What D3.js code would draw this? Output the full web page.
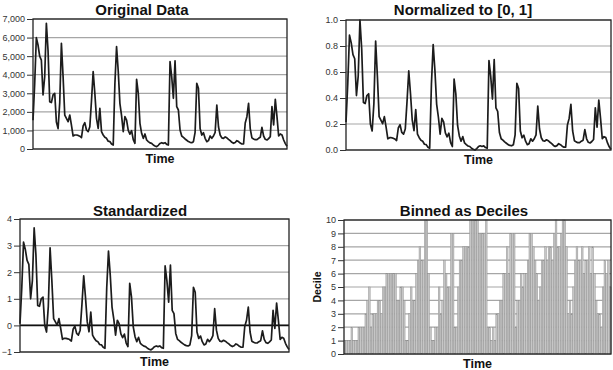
<!DOCTYPE html>
<html>
<head>
<meta charset="utf-8">
<script src="https://cdn.jsdelivr.net/npm/d3@7"></script>
<style>
  body { margin: 0; background: #fff; }
  svg text { font-family: "Liberation Sans", Arial, sans-serif; }
</style>
</head>
<body>
<svg id="chart" width="613" height="370"></svg>
<script>
// data (one value per time step)
var original = [1550,3500,6000,5600,5000,4790,2910,3900,6770,5300,
  2550,2500,2910,3000,1450,1100,2500,5690,3900,1830,
  1650,1470,1830,1290,700,754,754,730,690,610,
  1250,1420,1023,934,1200,2600,4165,3000,1650,1113,
  2190,934,754,628,575,420,400,269,215,3500,
  5510,4200,2460,1800,934,1741,1560,1000,800,987,
  500,305,3750,3000,1380,844,575,808,485,400,
  330,305,215,162,126,200,300,341,305,341,
  251,215,4700,3900,2730,4750,2280,2100,1023,700,
  628,540,470,400,360,341,395,900,3537,3267,
  1100,750,880,575,395,450,700,575,700,900,
  2370,1200,754,600,575,650,600,521,450,360,
  305,350,450,400,320,269,269,1400,1741,2460,
  1100,600,540,500,500,575,628,1167,700,521,
  485,560,664,2280,1293,2675,1741,700,808,760,
  485,290,150];

var deciles = [1,1,1,1,2,1,1,1,2,2,
  2,2,3,4,5,2,3,3,3,4,
  4,3,5,5,6,6,6,6,6,6,
  4,4,5,5,4,1,1,3,5,4,
  4,6,7,8,7,7,10,10,6,2,
  1,1,2,2,5,3,4,7,6,5,
  5,9,9,2,2,5,7,7,8,8,
  8,8,10,10,10,10,10,9,9,9,
  9,10,2,2,1,2,1,3,3,4,
  4,6,6,8,6,9,9,9,2,4,
  4,6,5,6,6,7,9,9,8,7,
  6,4,5,7,7,8,7,8,8,7,
  9,10,8,8,9,10,10,8,3,4,
  3,5,7,8,7,7,8,6,7,7,
  8,6,8,6,4,3,3,2,5,7,
  6,7,5];

var origTicks = [0,1000,2000,3000,4000,5000,6000,7000];
var normTicks = [0,0.2,0.4,0.6,0.8,1.0];
var stdTicks = [-1,0,1,2,3,4];
var decTicks = [0,1,2,3,4,5,6,7,8,9,10];

// the two transformed series come straight from the original one
var lo = d3.min(original), hi = d3.max(original);
var normalized = original.map(function (d) { return (d - lo) / (hi - lo); });
var mean = d3.mean(original), sd = d3.deviation(original);
var standardized = original.map(function (d) { return (d - mean) / sd; });

var svg = d3.select('#chart');

function panel(p) {
    var g = svg.append('g');
    var y = d3.scaleLinear().domain([p.ticks[0], p.ticks[p.ticks.length - 1]]).range([p.y1, p.y0]);

    // grid
    g.selectAll('line.grid').data(p.ticks).enter().append('line')
        .attr('x1', p.x0).attr('x2', p.x1)
        .attr('y1', function (d) { return y(d); }).attr('y2', function (d) { return y(d); })
        .attr('stroke', '#a6a6a6').attr('stroke-width', 1.2);

    if (p.bars) {
        var xb = d3.scaleBand().domain(d3.range(p.bars.length)).range([p.x0, p.x1]).padding(0);
        g.selectAll('rect.bar').data(p.bars).enter().append('rect')
            .attr('x', function (d, i) { return xb(i); })
            .attr('width', xb.bandwidth())
            .attr('y', function (d) { return y(d); })
            .attr('height', function (d) { return y(0) - y(d); })
            .attr('fill', '#c6c6c6').attr('stroke', '#8f8f8f').attr('stroke-width', 0.45);
    }

    if (p.zero !== undefined) {
        g.append('line').attr('x1', p.x0).attr('x2', p.x1)
            .attr('y1', y(p.zero)).attr('y2', y(p.zero))
            .attr('stroke', '#111').attr('stroke-width', 1.6);
    }

    if (p.values) {
        var x = d3.scaleLinear().domain([0, p.values.length - 1]).range([p.x0, p.x1]);
        var line = d3.line().x(function (d, i) { return x(i); }).y(function (d) { return y(d); });
        g.append('path').datum(p.values).attr('d', line)
            .attr('fill', 'none').attr('stroke', '#1c1c1c').attr('stroke-width', 1.7)
            .attr('stroke-linejoin', 'round');
    }

    // frame
    g.append('rect').attr('x', p.x0).attr('y', p.y0)
        .attr('width', p.x1 - p.x0).attr('height', p.y1 - p.y0)
        .attr('fill', 'none').attr('stroke', '#222').attr('stroke-width', 1.3);

    var axis = d3.axisLeft(y).tickValues(p.ticks).tickFormat(p.fmt).tickSize(6).tickPadding(2);
    var ax = g.append('g').attr('transform', 'translate(' + p.x0 + ',0)').call(axis);
    ax.select('.domain').remove();
    ax.selectAll('.tick line').attr('stroke', '#333');
    ax.selectAll('.tick text').attr('fill', '#333').style('font-size', '9px');

    g.append('text').attr('x', p.tx).attr('y', p.ty).attr('text-anchor', 'middle')
        .style('font-size', '15px').style('font-weight', 'bold').attr('fill', '#111').text(p.title);
    g.append('text').attr('x', (p.x0 + p.x1) / 2).attr('y', p.y1 + 14).attr('text-anchor', 'middle')
        .style('font-size', '12.5px').style('font-weight', 'bold').attr('fill', '#111').text('Time');
    if (p.ylabel) {
        g.append('text').attr('transform', 'translate(' + p.lx + ',' + ((p.y0 + p.y1) / 2) + ') rotate(-90)')
            .attr('text-anchor', 'middle').style('font-size', '10.5px').style('font-weight', 'bold')
            .attr('fill', '#111').text(p.ylabel);
    }
}

panel({ title: 'Original Data', tx: 142, ty: 15, x0: 33, x1: 287, y0: 19, y1: 149,
    ticks: origTicks, fmt: d3.format(','), values: original });
panel({ title: 'Normalized to [0, 1]', tx: 463, ty: 15, x0: 346, x1: 611, y0: 20, y1: 150,
    ticks: normTicks, fmt: d3.format('.1f'), values: normalized });
panel({ title: 'Standardized', tx: 140, ty: 216, x0: 20, x1: 289, y0: 219, y1: 352,
    ticks: stdTicks, fmt: d3.format('d'), values: standardized, zero: 0 });
panel({ title: 'Binned as Deciles', tx: 464, ty: 216, x0: 344, x1: 611, y0: 220, y1: 354,
    ticks: decTicks, fmt: d3.format('d'), bars: deciles, ylabel: 'Decile', lx: 321 });
</script>
</body>
</html>
